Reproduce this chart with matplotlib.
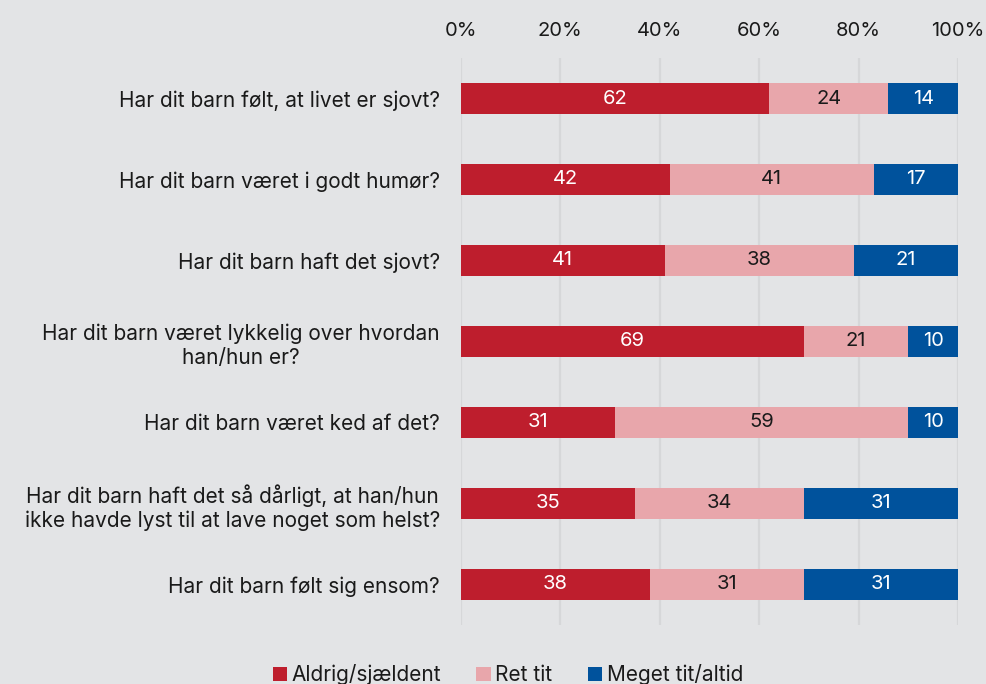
import numpy as np
import matplotlib.pyplot as plt

plt.rcParams['font.family'] = ['Inter', 'DejaVu Sans']

questions = [
    'Har dit barn følt, at livet er sjovt?',
    'Har dit barn været i godt humør?',
    'Har dit barn haft det sjovt?',
    'Har dit barn været lykkelig over hvordan\nhan/hun er?',
    'Har dit barn været ked af det?',
    'Har dit barn haft det så dårligt, at han/hun\nikke havde lyst til at lave noget som helst?',
    'Har dit barn følt sig ensom?',
]
aldrig = [62, 42, 41, 69, 31, 35, 38]
ret_tit = [24, 41, 38, 21, 59, 34, 31]
meget_tit = [14, 17, 21, 10, 10, 31, 31]
series_names = ['Aldrig/sjældent', 'Ret tit', 'Meget tit/altid']
colors = ['#be1e2d', '#e8a6ab', '#00529c']
text_colors = ['white', '#1a1a1a', 'white']
bg = '#e3e4e6'

fig = plt.figure(figsize=(9.86, 6.84), dpi=100, facecolor=bg)
ax = fig.add_axes([0.4675, 0.0863, 0.5041, 0.8289], facecolor=bg)

y = np.arange(len(questions))
left = np.zeros(len(questions))
for vals, name, c, tc in zip([aldrig, ret_tit, meget_tit], series_names, colors, text_colors):
    vals = np.array(vals, dtype=float)
    bars = ax.barh(y, vals, left=left, height=0.39, color=c, label=name, zorder=3)
    ax.bar_label(bars, labels=[str(int(v)) for v in vals], label_type='center',
                 color=tc, fontsize=14.5)
    left += vals

ax.set_xlim(0, 100)
ax.set_ylim(6.5, -0.5)
ax.set_xticks([0, 20, 40, 60, 80, 100])
ax.set_xticklabels(['0%', '20%', '40%', '60%', '80%', '100%'], fontsize=14.5, color='#1a1a1a')
ax.xaxis.tick_top()
ax.tick_params(axis='x', length=0, pad=13)
ax.set_yticks(y)
ax.set_yticklabels(questions, fontsize=15, color='#1a1a1a', multialignment='center',
                   linespacing=1.25)
ax.tick_params(axis='y', length=0, pad=15)
ax.grid(axis='x', color='#d6d7d9', linewidth=1.6, zorder=0)
for s in ax.spines.values():
    s.set_visible(False)

fig.legend(loc='upper center', bbox_to_anchor=(0.515, 0.047), ncol=3, frameon=False,
           fontsize=15, handlelength=0.7, handleheight=0.7, handletextpad=0.2,
           columnspacing=1.7, labelcolor='#1a1a1a', borderpad=0.1)

fig.savefig('out.png', dpi=100, facecolor=bg)
